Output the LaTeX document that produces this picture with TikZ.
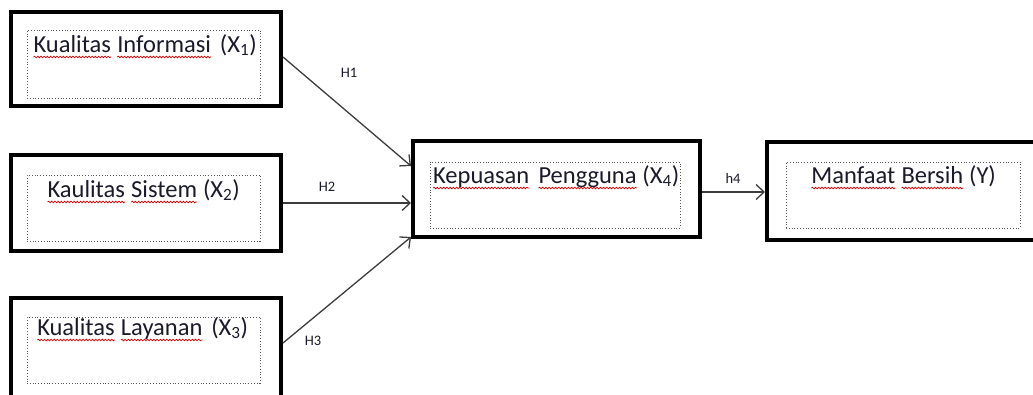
\documentclass[tikz,border=0pt]{standalone}
\usepackage{fontspec}
\setmainfont{Carlito}
\usetikzlibrary{arrows.meta,calc,decorations.pathmorphing}
\definecolor{ink}{HTML}{1A1A2A}
\definecolor{wire}{HTML}{3C3C3C}
% word with a red wavy spell-check underline
\newcommand\spellmark[1]{\tikz[baseline=(w.base)]{%
  \node[inner sep=0pt,outer sep=0pt,anchor=base,draw=none] (w) at (0,0) {#1};
  \draw[red!85!black, line width=0.7pt, decorate, decoration={snake, amplitude=0.8pt, segment length=3.2pt}]
    ([yshift=-5pt]w.base west) -- ([yshift=-5pt]w.base east);}}
\newcommand\widegap{\ \hspace{3pt}}
\tikzset{
  outerbox/.style={draw=black, line width=4pt, rectangle, inner sep=0pt},
  framebox/.style={draw=black!65, line width=0.8pt, dotted, rectangle, inner sep=0pt},
  boxtext/.style={font=\fontsize{24.5}{29}\selectfont, text=ink, anchor=base, inner sep=0pt},
  hlabel/.style={font=\fontsize{14.5}{17}\selectfont, text=ink, inner sep=0pt},
  conn/.style={draw=wire, line width=1.3pt, -{Straight Barb[length=8pt,width=15pt,line width=1.3pt]}},
}
\begin{document}
\begin{tikzpicture}[x=1pt,y=-1pt]
\useasboundingbox (0,0) rectangle (1033,394);
\clip (0,0) rectangle (1033,394);
% outer boxes
\node[outerbox, minimum width=270pt, minimum height=94pt] (b1) at (146,59) {};
\node[outerbox, minimum width=270pt, minimum height=96pt] (b2) at (146,203) {};
\node[outerbox, minimum width=270pt, minimum height=104pt] (b3) at (146,350) {};
\node[outerbox, minimum width=287pt, minimum height=96pt] (b4) at (556.5,189) {};
\node[outerbox, minimum width=278pt, minimum height=98pt] (b5) at (906,191) {};
% dotted text frames
\node[framebox, minimum width=233pt, minimum height=68pt] (f1) at (143.5,64) {};
\node[framebox, minimum width=233pt, minimum height=66pt] (f2) at (143.5,208) {};
\node[framebox, minimum width=233pt, minimum height=66pt] (f3) at (143.5,350) {};
\node[framebox, minimum width=250pt, minimum height=66pt] (f4) at (555,195) {};
\node[framebox, minimum width=234pt, minimum height=66pt] (f5) at (903,195) {};
% texts
\node[boxtext] (t1) at (145,52) {\spellmark{Kualitas} \spellmark{Informasi}\widegap(X\textsubscript{1})};
\node[boxtext] (t2) at (143.5,197) {\spellmark{Kaulitas} \spellmark{Sistem} (X\textsubscript{2})};
\node[boxtext] (t3) at (142.5,335) {\spellmark{Kualitas} \spellmark{Layanan}\widegap(X\textsubscript{3})};
\node[boxtext] (t4) at (556,183) {\spellmark{Kepuasan}\widegap\spellmark{Pengguna} (X\textsubscript{4})};
\node[boxtext] (t5) at (903.5,183) {\spellmark{Manfaat} \spellmark{Bersih} (Y)};
% connectors
\draw[conn] ([yshift=2pt]b1.east) -- ([yshift=23pt]b4.west);
\draw[conn] (b2.east) -- ([yshift=-14pt]b4.west);
\draw[conn] ([yshift=7pt]b3.east) -- ([yshift=-48pt]b4.west);
\draw[conn] ([yshift=-3pt]b4.east) -- ([yshift=-3pt]b4.east -| b5.west);
% labels
\node[hlabel] (l1) at (349,73) {H1};
\node[hlabel] (l2) at (327,187) {H2};
\node[hlabel] (l3) at (313,341) {H3};
\node[hlabel] (l4) at (733,178) {h4};
\end{tikzpicture}
\end{document}
